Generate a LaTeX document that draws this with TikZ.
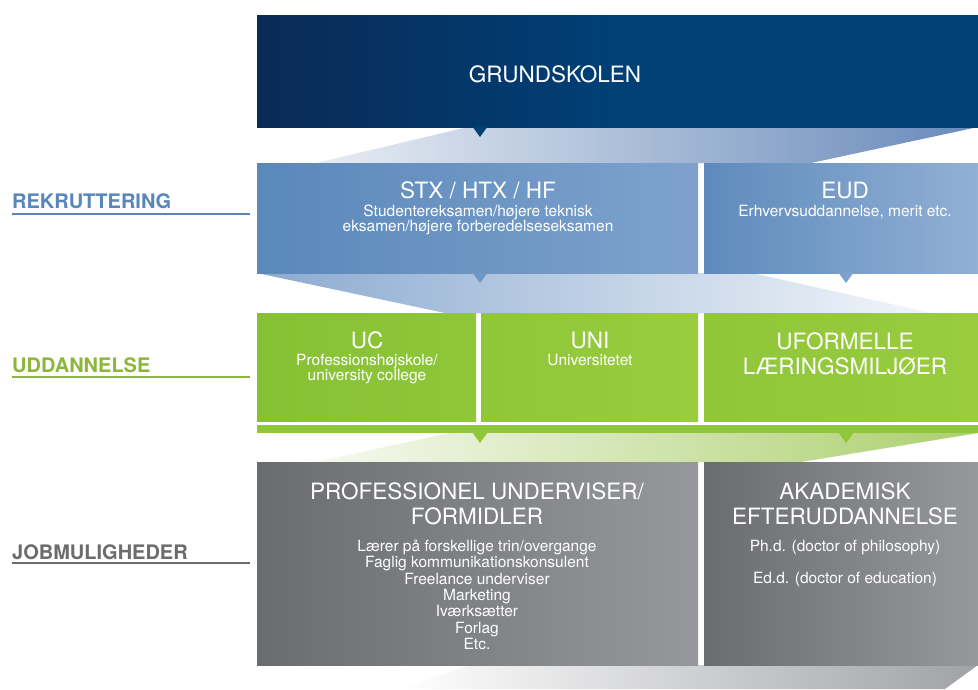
\documentclass[tikz,border=0pt]{standalone}
\usepackage{fontspec}
\setmainfont{TeX Gyre Heros}
\usetikzlibrary{positioning,calc}

\definecolor{navydark}{RGB}{10,42,86}
\definecolor{navy}{RGB}{0,64,118}
\definecolor{steelleft}{RGB}{90,136,186}
\definecolor{steelright}{RGB}{126,162,205}
\definecolor{steelmid}{RGB}{112,150,196}
\definecolor{greenleft}{RGB}{134,193,52}
\definecolor{greenright}{RGB}{154,204,62}
\definecolor{greenmid}{RGB}{143,198,58}
\definecolor{grayleft}{RGB}{106,108,112}
\definecolor{grayright}{RGB}{150,152,156}
\definecolor{labelblue}{RGB}{88,134,186}
\definecolor{labelgreen}{RGB}{140,182,58}
\definecolor{labelgray}{RGB}{108,108,110}

\begin{document}
\begin{tikzpicture}[x=1pt, y=-1pt,
    tier/.style={rectangle, anchor=north west, inner sep=0pt, outer sep=0pt},
    boxtitle/.style={text=white, font=\fontsize{22.5}{25}\selectfont, align=center, inner sep=0pt},
    boxsub/.style={text=white, font=\fontsize{15.5}{15}\selectfont, align=center, inner sep=0pt, anchor=north},
    boxlist/.style={boxsub, font=\fontsize{15.5}{16.4}\selectfont},
    rowlabel/.style={font=\fontsize{20}{20}\selectfont\bfseries, anchor=base west, inner sep=0pt},
    underline/.style={line width=1.2pt}
]
\useasboundingbox (0,0) rectangle (978,689);
\fill[white] (0,0) rectangle (978,689);

% ============ OVERGANGE ============
\shade[left color={rgb,255:red,232;green,237;blue,244}, right color={rgb,255:red,104;green,138;blue,186}]
  (468,127) -- (978,127) -- (811,163) -- (316,163) -- cycle;
\shade[left color={rgb,255:red,140;green,170;blue,208}, right color={rgb,255:red,242;green,246;blue,250}]
  (257,273) -- (752,273) -- (932,313) -- (445,313) -- cycle;
\shade[left color={rgb,255:red,246;green,249;blue,240}, right color={rgb,255:red,172;green,208;blue,110}]
  (450,433) -- (978,433) -- (801,462) -- (315,462) -- cycle;
\shade[left color=white, right color={rgb,255:red,160;green,162;blue,166}]
  (470,665) -- (978,665) -- (945,689) -- (400,689) -- cycle;

% ============ GRUNDSKOLEN ============
\node[tier, minimum width=721pt, minimum height=112pt, left color=navydark, right color=navy, middle color=navy] (grundskolen) at (257,15) {};
\node[boxtitle, anchor=base] (grundskolen-title) at (555,82) {GRUNDSKOLEN};
\fill[navy] (472,126) -- (488,126) -- (480,137) -- cycle;

% ============ REKRUTTERING ============
\node[tier, minimum width=441pt, minimum height=110pt, left color=steelleft, right color=steelright] (stx) at (257,163) {};
\node[tier, minimum width=274pt, minimum height=110pt, left color=steelleft!90!steelright, right color=steelright!85!white] (eud) at (704,163) {};

\node[boxtitle, anchor=base] (stx-title) at (478,198) {STX / HTX / HF};
\node[boxsub] (stx-sub) at (478,205) {Studentereksamen/højere teknisk\\eksamen/højere forberedelseseksamen};
\node[boxtitle, anchor=base] (eud-title) at (845,198) {EUD};
\node[boxsub] (eud-sub) at (845,205) {Erhvervsuddannelse, merit etc.};

\fill[steelmid] (472,272) -- (488,272) -- (480,283) -- cycle;
\fill[steelright] (838,272) -- (854,272) -- (846,283) -- cycle;

% ============ UDDANNELSE ============
\node[tier, minimum width=219pt, minimum height=108pt, left color=greenleft, right color=greenmid] (uc) at (257,313) {};
\node[tier, minimum width=217pt, minimum height=108pt, left color=greenmid, right color=greenright] (uni) at (481,313) {};
\node[tier, minimum width=274pt, minimum height=108pt, left color=greenmid, right color=greenright] (uformelle) at (704,313) {};
\node[tier, minimum width=721pt, minimum height=8pt, fill=greenmid] (green-band) at (257,425) {};

\node[boxtitle, anchor=base] (uc-title) at (367,348) {UC};
\node[boxsub] (uc-sub) at (367,354) {Professionshøjskole/\\university college};
\node[boxtitle, anchor=base] (uni-title) at (590,348) {UNI};
\node[boxsub] (uni-sub) at (590,354) {Universitetet};
\node[boxtitle, anchor=north] (uformelle-title) at (845,332) {UFORMELLE\\LÆRINGSMILJØER};

\fill[greenmid] (472,432) -- (488,432) -- (480,443) -- cycle;
\fill[greenmid] (838,432) -- (854,432) -- (846,443) -- cycle;

% ============ JOBMULIGHEDER ============
\node[tier, minimum width=441pt, minimum height=203pt, left color=grayleft, right color=grayright] (professionel) at (257,462) {};
\node[tier, minimum width=274pt, minimum height=203pt, left color=grayleft, right color=grayright] (akademisk) at (704,462) {};

\node[boxtitle, anchor=north] (professionel-title) at (477,482.5) {PROFESSIONEL UNDERVISER/\\FORMIDLER};
\node[boxlist] (professionel-list) at (477,539.5) {Lærer på forskellige trin/overgange\\Faglig kommunikationskonsulent\\Freelance underviser\\Marketing\\Iværksætter\\Forlag\\Etc.};
\node[boxtitle, anchor=north] (akademisk-title) at (845,482.5) {AKADEMISK\\EFTERUDDANNELSE};
\node[boxlist] (akademisk-list) at (845,539.5) {Ph.d. (doctor of philosophy)\\[15.6pt]Ed.d. (doctor of education)};

% ============ RÆKKER ============
\node[rowlabel, text=labelblue] (rekruttering) at (12,208) {REKRUTTERING};
\draw[underline, labelblue] ([yshift=-6pt]rekruttering.base west) -- ++(238,0);
\node[rowlabel, text=labelgreen] (uddannelse) at (12,372) {UDDANNELSE};
\draw[underline, labelgreen] ([yshift=-5pt]uddannelse.base west) -- ++(238,0);
\node[rowlabel, text=labelgray] (jobmuligheder) at (12,559) {JOBMULIGHEDER};
\draw[underline, labelgray] ([yshift=-4pt]jobmuligheder.base west) -- ++(238,0);

\end{tikzpicture}
\end{document}
